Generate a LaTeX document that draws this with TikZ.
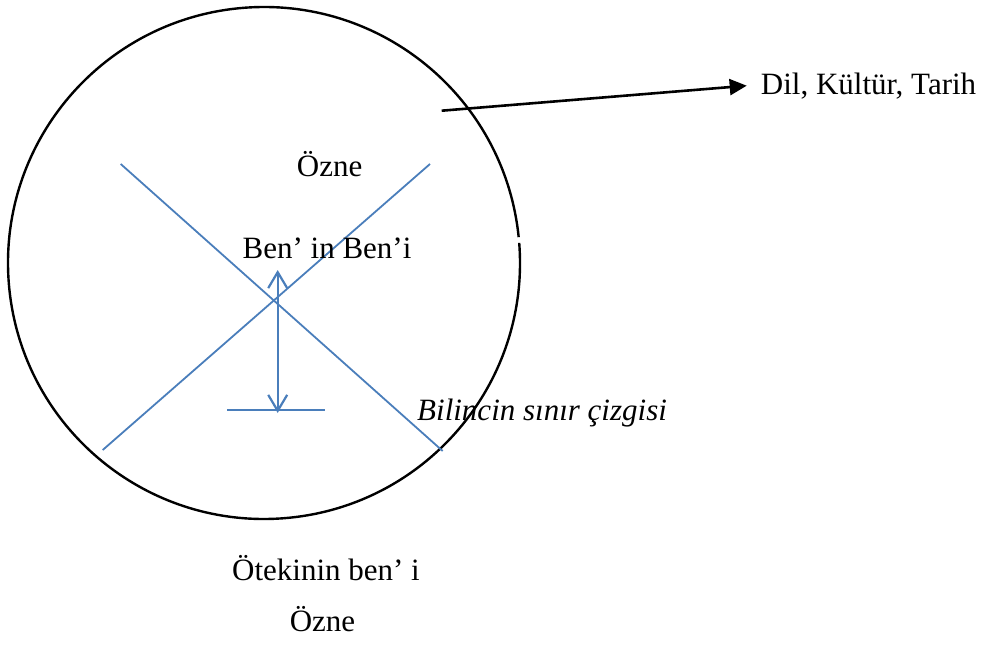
\documentclass[tikz,border=0pt]{standalone}
\usepackage{fontspec}
\setmainfont{Liberation Serif}
\usetikzlibrary{arrows.meta}
\definecolor{xblue}{HTML}{4A7EBB}
\begin{document}
\begin{tikzpicture}[x=1pt,y=-1pt,
  lbl/.style={inner sep=0pt, font=\fontsize{31}{37}\selectfont},
  blueline/.style={draw=xblue, line width=1.8pt},
  bluearrow/.style={draw=xblue, line width=2.4pt, {Straight Barb[length=16pt,width=19pt,line width=2.2pt]}-{Straight Barb[length=16pt,width=19pt,line width=2.2pt]}},
  blackarrow/.style={draw=black, line width=2.6pt, -{Triangle[length=17pt,width=16pt]}},
  rim/.style={draw=black, line width=2.4pt}]
\useasboundingbox (0,0) rectangle (989,650);
% circle with a small gap on the right
\draw[rim] (264,263) ++(-4.5:256) arc[start angle=-4.5, end angle=354.2, radius=256];
% crossing lines
\coordinate (l1a) at (120.7,164);
\coordinate (l1b) at (442.7,451);
\coordinate (l2a) at (430,164);
\coordinate (l2b) at (102.7,450);
\draw[blueline] (l1a) -- (l1b);
\draw[blueline] (l2a) -- (l2b);
% base line and vertical arrow
\coordinate (ba) at (227.3,410);
\coordinate (bb) at (325,410);
\draw[blueline] (ba) -- (bb);
\coordinate (vt) at (277.7,270);
\coordinate (vb) at (277.7,413);
\draw[bluearrow] (vb) -- (vt);
% texts
\node[lbl, anchor=base] (ozne1) at (329.7,176.7) {Özne};
\node[lbl, anchor=base] (benin) at (327,258.3) {Ben’ in Ben’i};
\node[lbl, anchor=base west] (dil) at (760.7,94.3) {Dil, Kültür, Tarih};
\node[lbl, anchor=base west, font=\fontsize{31}{37}\selectfont\itshape] (bilinc) at (417,420) {Bilincin sınır çizgisi};
\node[lbl, anchor=base] (otekinin) at (326,580.7) {Ötekinin ben’ i};
\node[lbl, anchor=base] (ozne2) at (322.5,631) {Özne};
% outgoing arrow
\coordinate (as) at (441.7,110.7);
\draw[blackarrow] (as) -- ([xshift=-14pt]dil.west |- 0,85.7);
\end{tikzpicture}
\end{document}
